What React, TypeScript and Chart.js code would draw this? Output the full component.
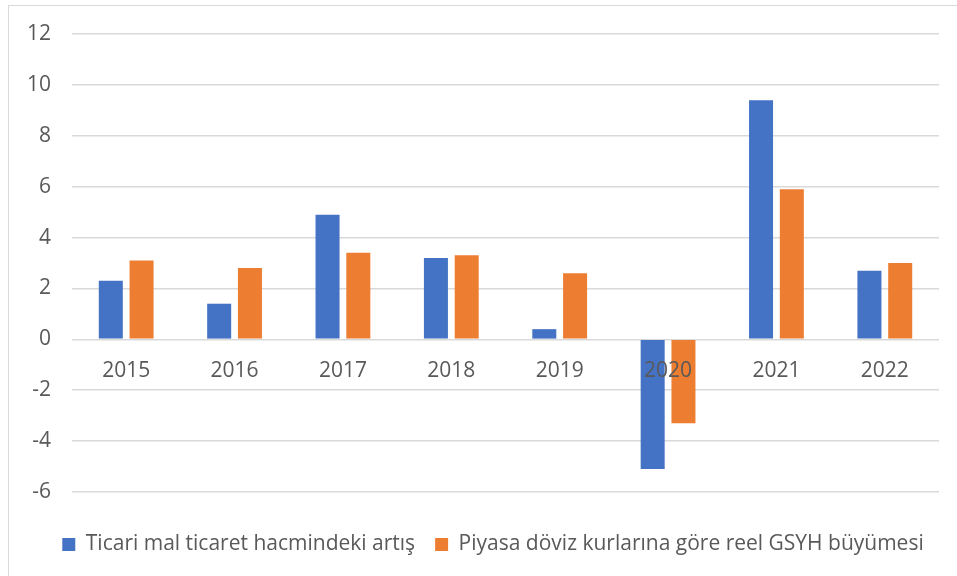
import React, { useEffect, useRef } from "react";
import { Chart, registerables } from "chart.js";

Chart.register(...registerables);

const categories = ["2015", "2016", "2017", "2018", "2019", "2020", "2021", "2022"];
const tradeVolumeGrowth = [2.3, 1.4, 4.9, 3.2, 0.4, -5.1, 9.4, 2.7];
const realGdpGrowth = [3.1, 2.8, 3.4, 3.3, 2.6, -3.3, 5.9, 3.0];
const seriesNames = [
  "Ticari mal ticaret hacmindeki artış",
  "Piyasa döviz kurlarına göre reel GSYH büyümesi",
];
const yMin = -6;
const yMax = 12;
const yStep = 2;

const FONT = "'Open Sans', Lato, sans-serif";
const TEXT = "#595959";
const GRID = "#d9d9d9";

// cosmetic: nudge the legend so it is centred like the original
const legendOffset = {
  id: "legendOffset",
  afterLayout(chart: any) {
    const l = chart.legend;
    if (l) {
      l.left += 19;
      l.right += 19;
    }
  },
};

export default function App() {
  const ref = useRef<HTMLCanvasElement | null>(null);

  useEffect(() => {
    if (!ref.current) return;
    const chart = new Chart(ref.current, {
      type: "bar",
      plugins: [legendOffset],
      data: {
        labels: categories,
        datasets: [
          {
            label: seriesNames[0],
            data: tradeVolumeGrowth,
            backgroundColor: "#4472C4",
            barPercentage: 0.78,
            categoryPercentage: 0.568,
          },
          {
            label: seriesNames[1],
            data: realGdpGrowth,
            backgroundColor: "#ED7D31",
            barPercentage: 0.78,
            categoryPercentage: 0.568,
          },
        ],
      },
      options: {
        animation: false,
        responsive: true,
        maintainAspectRatio: false,
        layout: { padding: { top: 28, right: 18, bottom: 11, left: 0 } },
        scales: {
          x: {
            position: { y: 0 } as any,
            grid: { display: false },
            border: { display: false },
            ticks: {
              z: 1,
              color: TEXT,
              font: { family: FONT, size: 21 },
              padding: 11,
              maxRotation: 0,
            },
            afterFit: (scale: any) => {
              scale.paddingTop = 0;
              scale.paddingBottom = 0;
            },
          },
          y: {
            min: yMin,
            max: yMax,
            grid: { color: GRID, lineWidth: 1.5, drawTicks: false },
            border: { display: false },
            ticks: {
              stepSize: yStep,
              color: TEXT,
              font: { family: FONT, size: 21 },
              padding: 21,
            },
            afterFit: (scale: any) => {
              scale.width = 63;
              scale.paddingTop = 0;
              scale.paddingBottom = 0;
            },
          },
        },
        plugins: {
          tooltip: { enabled: false },
          legend: {
            position: "bottom",
            title: {
              display: true,
              text: "",
              padding: 0,
              font: { family: FONT, size: 22, lineHeight: 1 },
            },
            labels: {
              boxWidth: 13,
              boxHeight: 13,
              padding: 20,
              color: TEXT,
              font: { family: FONT, size: 21 },
            },
          },
        },
      },
    });
    return () => chart.destroy();
  }, []);

  return (
    <div
      style={{
        position: "absolute",
        left: 8,
        top: 5,
        width: 950,
        height: 572,
        border: "1px solid #d9d9d9",
        boxSizing: "border-box",
        background: "#fff",
      }}
    >
      <div style={{ position: "relative", width: 948, height: 570 }}>
        <canvas ref={ref} />
      </div>
    </div>
  );
}
